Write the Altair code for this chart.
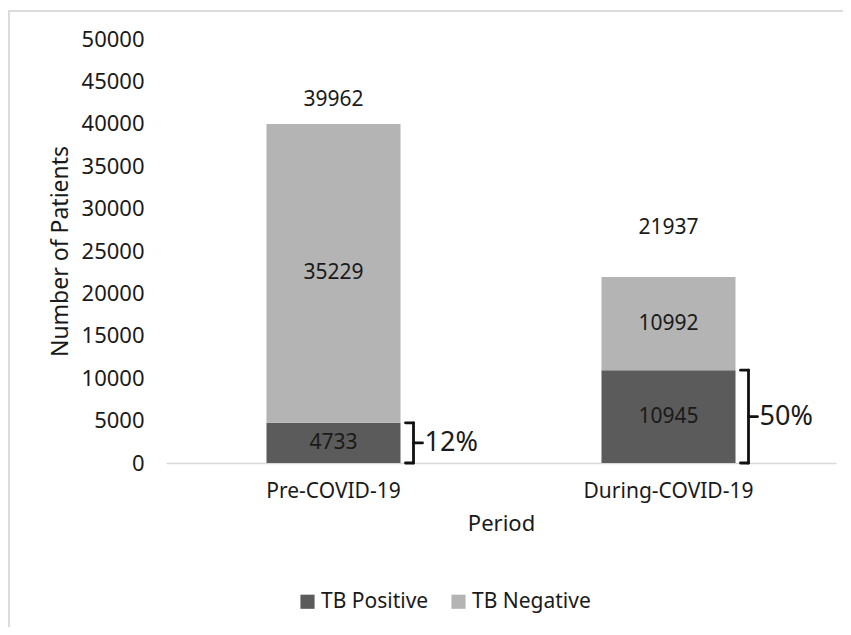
import altair as alt
import pandas as pd

periods = ["Pre-COVID-19", "During-COVID-19"]
series = ["TB Positive", "TB Negative"]
tb_positive = [4733, 10945]
tb_negative = [35229, 10992]
totals = [39962, 21937]
total_label_at = [42770, 27690]
pct_labels = ["12%", "50%"]
colors = ["#5b5b5b", "#b4b4b4"]
y_ticks = list(range(0, 50001, 5000))

FONT = "Noto Sans"
TXT = "#1a1a1a"

rows = []
for i, p in enumerate(periods):
    rows.append({"Period": p, "Result": series[0], "Count": tb_positive[i],
                 "start": 0, "end": tb_positive[i]})
    rows.append({"Period": p, "Result": series[1], "Count": tb_negative[i],
                 "start": tb_positive[i], "end": tb_positive[i] + tb_negative[i]})
df = pd.DataFrame(rows)
df["mid"] = (df["start"] + df["end"]) / 2

tot = pd.DataFrame({"Period": periods, "Total": totals, "at": total_label_at})
br = pd.DataFrame({"Period": periods, "top": tb_positive,
                   "half": [v / 2 for v in tb_positive], "zero": [0, 0],
                   "pct": pct_labels})

xenc = alt.X("Period:N", sort=periods,
             scale=alt.Scale(paddingInner=0.6, paddingOuter=0.3),
             axis=alt.Axis(title="Period", labelAngle=0, ticks=False,
                           domainColor="#d9d9d9", domainWidth=1.3,
                           labelFontSize=21, titleFontSize=22,
                           labelPadding=17, titlePadding=12,
                           labelColor=TXT, titleColor=TXT,
                           titleFontWeight="normal", labelFont=FONT, titleFont=FONT))
yscale = alt.Scale(domain=[0, 50000])

bars = alt.Chart(df).mark_bar().encode(
    x=xenc,
    y=alt.Y("start:Q", scale=yscale,
            axis=alt.Axis(values=y_ticks, format="d", grid=False, domain=False,
                          ticks=False, labelPadding=22, labelFontSize=22,
                          title="Number of Patients", titleFontSize=23,
                          titlePadding=9, labelColor=TXT, titleColor=TXT,
                          titleFontWeight="normal", labelFont=FONT, titleFont=FONT)),
    y2="end:Q",
    color=alt.Color("Result:N", sort=series,
                    scale=alt.Scale(domain=series, range=colors),
                    legend=alt.Legend(orient="none", legendX=131, legendY=552,
                                      direction="horizontal", title=None,
                                      symbolType="square", symbolSize=200,
                                      symbolStrokeWidth=0, labelFontSize=21,
                                      labelFont=FONT, labelColor=TXT,
                                      columnPadding=19, labelOffset=3, padding=0)),
)

inner = alt.Chart(df).mark_text(fontSize=21, font=FONT, color=TXT).encode(
    x=alt.X("Period:N", sort=periods), y=alt.Y("mid:Q", scale=yscale), text="Count:Q")

totals_txt = alt.Chart(tot).mark_text(fontSize=21, font=FONT, color=TXT).encode(
    x=alt.X("Period:N", sort=periods), y=alt.Y("at:Q", scale=yscale), text="Total:Q")

xr = alt.X("Period:N", sort=periods, bandPosition=1)
xr2 = alt.X2("Period:N", bandPosition=1)
bk = dict(color="#111111", strokeWidth=2.8, strokeCap="round")

vert = alt.Chart(br).mark_rule(xOffset=13, **bk).encode(
    x=xr, y=alt.Y("zero:Q", scale=yscale), y2="top:Q")
hook_top = alt.Chart(br).mark_rule(xOffset=5, x2Offset=13, **bk).encode(
    x=xr, x2=xr2, y=alt.Y("top:Q", scale=yscale))
hook_bot = alt.Chart(br).mark_rule(xOffset=5, x2Offset=13, **bk).encode(
    x=xr, x2=xr2, y=alt.Y("zero:Q", scale=yscale))
tip = alt.Chart(br).mark_rule(xOffset=13, x2Offset=22, **bk).encode(
    x=xr, x2=xr2, y=alt.Y("half:Q", scale=yscale))
pct = alt.Chart(br).mark_text(align="left", dx=24, fontSize=27, font=FONT, color=TXT).encode(
    x=xr, y=alt.Y("half:Q", scale=yscale), text="pct:N")

border = alt.Chart(tot).mark_rect(fill=None, stroke="#d9d9d9", strokeWidth=1.5).encode(
    x=alt.value(-157), x2=alt.value(720), y=alt.value(-28), y2=alt.value(600))

chart = alt.layer(border, bars, inner, totals_txt, vert, hook_top, hook_bot, tip, pct).properties(
    width=670, height=424,
    autosize=alt.AutoSizeParams(type="none"),
    padding={"left": 158, "top": 31, "right": 7, "bottom": 164},
).configure(font=FONT, background="white", view=alt.ViewConfig(strokeWidth=0))

chart.save("out.html", embed_options={"renderer": "svg", "actions": False})
